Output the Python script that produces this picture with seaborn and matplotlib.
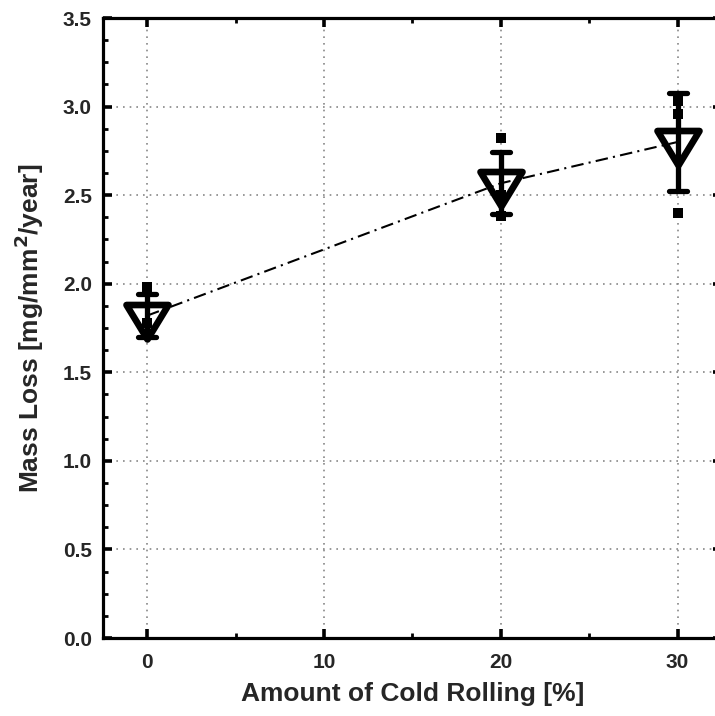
import numpy as np
import pandas as pd
import matplotlib
matplotlib.use("Agg")
import matplotlib.pyplot as plt
from matplotlib.path import Path
from matplotlib.markers import MarkerStyle
from matplotlib.ticker import MultipleLocator
import seaborn as sns

# Cold rolling levels and measured mass loss
rolling = [0, 20, 30]
mean_loss = [1.82, 2.567, 2.80]
err_loss = [0.12, 0.175, 0.275]

# Individual specimens
sample_rolling = [0, 0, 0, 20, 20, 20, 30, 30, 30]
sample_loss = [1.98, 1.78, 1.71, 2.82, 2.50, 2.38, 3.03, 2.96, 2.40]

x_ticks = [0, 10, 20, 30]
y_ticks = [0.0, 0.5, 1.0, 1.5, 2.0, 2.5, 3.0, 3.5]

sns.set_theme(style="ticks")
plt.rcParams["font.family"] = ["Liberation Sans", "DejaVu Sans"]
plt.rcParams["font.weight"] = "bold"

fig = plt.figure(figsize=(7.15, 7.16), dpi=100)
W, H = 715, 716
left, right, bottom, top = 103, 721.7, 638, 18
ax = fig.add_axes([left / W, (H - bottom) / H, (right - left) / W, (bottom - top) / H])

means = pd.DataFrame({"rolling": rolling, "loss": mean_loss})
samples = pd.DataFrame({"rolling": sample_rolling, "loss": sample_loss})

# dash-dot trend through the means
sns.lineplot(data=means, x="rolling", y="loss", ax=ax, color="black",
             linewidth=1.5, dashes=False, zorder=2)
ax.lines[-1].set_dashes([6, 2.5, 1, 2.5])

# individual specimens
sns.scatterplot(data=samples, x="rolling", y="loss", ax=ax, marker="s",
                s=58, color="black", edgecolor="black", linewidth=0, zorder=3)

# down triangle centred on its centroid
tri = Path([(-21, 11.5), (21, 11.5), (0, -23), (-21, 11.5)],
           [Path.MOVETO, Path.LINETO, Path.LINETO, Path.CLOSEPOLY])
tri_marker = MarkerStyle(tri, joinstyle="round")

eb = ax.errorbar(rolling, mean_loss, yerr=err_loss, fmt="none", ecolor="black",
                 elinewidth=3.8, capsize=7, capthick=3.8, zorder=4)
for cap in eb[1]:
    cap.set_marker(MarkerStyle("_", capstyle="round"))
    cap.set_markersize(13)
ax.plot(rolling, mean_loss, linestyle="none", marker=tri_marker,
        markersize=2 * 23 * 0.72, markerfacecolor="none",
        markeredgecolor="black", markeredgewidth=4.8, zorder=5)

ax.set_xlim(-2.5, 32.5)
ax.set_ylim(0, 3.5)
ax.set_xticks(x_ticks)
ax.set_yticks(y_ticks)
ax.xaxis.set_minor_locator(MultipleLocator(5))
ax.yaxis.set_minor_locator(MultipleLocator(0.125))
ax.set_yticklabels([f"{v:.1f}" for v in y_ticks])

ax.grid(True, which="major", linestyle=(0, (1, 3)), color="#888888", linewidth=1.2)
ax.set_axisbelow(True)

for s in ax.spines.values():
    s.set_linewidth(2.3)
    s.set_color("black")
    s.set_visible(True)

ax.tick_params(which="major", direction="in", length=6.5, width=2.6,
               top=True, right=True, labelsize=15, pad=8, color="black")
ax.tick_params(axis="x", which="major", pad=11)
ax.tick_params(which="minor", direction="in", length=3.5, width=2.0,
               top=True, right=True, color="black")
for lab in ax.get_xticklabels() + ax.get_yticklabels():
    lab.set_fontweight("bold")

ax.set_xlabel("Amount of Cold Rolling [%]", fontsize=19, fontweight="bold", labelpad=7)
ax.set_ylabel("Mass Loss [mg/mm$^\\mathbf{2}$/year]", fontsize=19, fontweight="bold", labelpad=12)

fig.savefig("out.png", dpi=100)
